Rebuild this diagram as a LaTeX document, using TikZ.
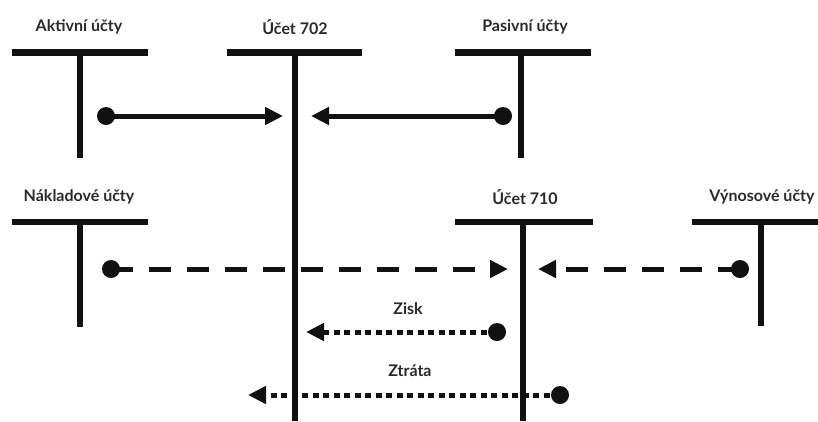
\documentclass[tikz,border=0pt]{standalone}
\usepackage{fontspec}
\setmainfont{Lato}
\usetikzlibrary{arrows.meta}
\definecolor{ink}{HTML}{111111}
\definecolor{txt}{HTML}{2A2A2A}
\begin{document}
\begin{tikzpicture}[x=1pt,y=-1pt,
  bar/.style={line width=6.5pt,draw=ink},
  stem/.style={line width=6pt,draw=ink},
  lbl/.style={text=txt,font=\bfseries\fontsize{16}{19}\selectfont,inner sep=0pt},
  dotn/.style={circle,fill=ink,minimum size=18pt,inner sep=0pt},
  conn/.style={line width=5pt,draw=ink,-{Triangle[length=18pt,width=17pt]}},
  dashconn/.style={conn,dash pattern=on 22pt off 16pt},
  dotconn/.style={conn,dash pattern=on 6pt off 4.5pt}]
\useasboundingbox (0,0) rectangle (818,421);
\fill[white] (0,0) rectangle (818,421);
% T accounts
\node[lbl] (l1) at (79,27) {Aktivní účty};
\node[lbl] (l2) at (295,27) {Účet 702};
\node[lbl] (l3) at (525,27) {Pasivní účty};
\node[lbl] (l4) at (79,197) {Nákladové účty};
\node[lbl] (l5) at (525,197) {Účet 710};
\node[lbl] (l6) at (762,197) {Výnosové účty};
\draw[bar] (12,52.5) -- (148,52.5);
\draw[stem] (80,52) -- (80,158);
\draw[bar] (227,52.5) -- (362,52.5);
\draw[stem] (295,52) -- (295,421);
\draw[bar] (455,52.5) -- (591,52.5);
\draw[stem] (521,52) -- (521,158);
\draw[bar] (12,222) -- (148,222);
\draw[stem] (80,222) -- (80,327);
\draw[bar] (455,222) -- (593,222);
\draw[stem] (523,222) -- (523,421);
\draw[bar] (692,222) -- (818,222);
\draw[stem] (761,222) -- (761,326);
% connectors
\node[dotn] (d1) at (106,116) {};
\coordinate (t1) at (283,116);
\draw[conn] (d1.center) -- (t1);
\node[dotn] (d2) at (503,116) {};
\coordinate (t2) at (311,116);
\draw[conn] (d2.center) -- (t2);
\node[dotn] (d3) at (111,269) {};
\coordinate (t3) at (508,269);
\draw[dashconn] (d3.center) -- (t3);
\node[dotn] (d4) at (740,269) {};
\coordinate (t4) at (538,269);
\draw[dashconn] (d4.center) -- (t4);
\node[lbl] (zisk) at (408,309) {Zisk};
\node[dotn] (d5) at (497,332) {};
\coordinate (t5) at (306,332);
\draw[dotconn] (d5.center) -- (t5);
\node[lbl] (ztrata) at (410,371) {Ztráta};
\node[dotn] (d6) at (560,395) {};
\coordinate (t6) at (248,395);
\draw[dotconn] (d6.center) -- (t6);
\end{tikzpicture}
\end{document}
